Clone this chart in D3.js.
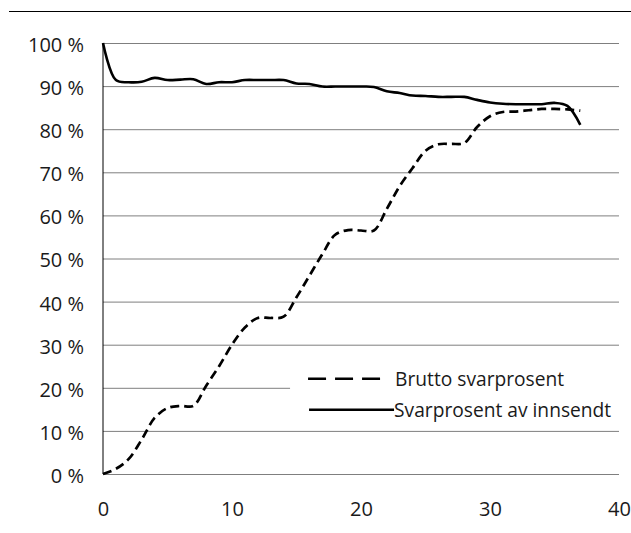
<!DOCTYPE html>
<html>
<head>
<meta charset="utf-8">
<script src="https://cdn.jsdelivr.net/npm/d3@7"></script>
<style>
    body { margin: 0; background: #fff; }
    text { font-family: "Open Sans", sans-serif; fill: #1a1a1a; }
</style>
</head>
<body>
<div id="chart"></div>
<script>
// data
const days = [0, 1, 2, 3, 4, 5, 6, 7, 8, 9, 10, 11, 12, 13, 14, 15, 16, 17, 18, 19,
    20, 21, 22, 23, 24, 25, 26, 27, 28, 29, 30, 31, 32, 33, 34, 35, 36, 37]
const brutto = [0, 1.2, 3.5, 8, 13, 15.3, 15.8, 15.8, 20.5, 25, 30, 34, 36.2, 36.2, 36.5, 41, 46, 51, 55.5, 56.6,
    56.5, 56.5, 61.5, 66.8, 71, 75, 76.5, 76.6, 76.8, 80.5, 83, 84, 84.1, 84.4, 84.7, 84.7, 84.6, 84.3]
const innsendt = [100, 91.4, 90.9, 91, 91.9, 91.4, 91.5, 91.6, 90.5, 90.9, 90.9, 91.4, 91.4, 91.4, 91.4, 90.6, 90.5, 89.9, 89.9, 89.9,
    89.9, 89.8, 88.8, 88.4, 87.8, 87.7, 87.5, 87.5, 87.5, 86.8, 86.2, 85.9, 85.8, 85.8, 85.8, 86.1, 85.4, 81]
const xTicks = [0, 10, 20, 30, 40]
const yTicks = [0, 10, 20, 30, 40, 50, 60, 70, 80, 90, 100]
const seriesNames = ["Brutto svarprosent", "Svarprosent av innsendt"]

function draw() {
    let dimensions = {
        width: 631,
        height: 533,
        left: 103,
        right: 12,
        top: 43,
        bottom: 59,
    };
    dimensions.ctrWidth = dimensions.width - dimensions.left - dimensions.right
    dimensions.ctrHeight = dimensions.height - dimensions.top - dimensions.bottom

    const svg = d3.select('#chart')
        .append("svg")
        .attr("width", dimensions.width)
        .attr("height", dimensions.height)

    // rule across the top
    svg.append("line")
        .attr("x1", 9).attr("x2", dimensions.width)
        .attr("y1", 11.5).attr("y2", 11.5)
        .attr("stroke", "#000")
        .attr("stroke-width", 1)

    const ctr = svg.append("g")
        .attr("transform", `translate(${dimensions.left}, ${dimensions.top})`)

    // scales
    var x = d3.scaleLinear()
        .domain([0, 40])
        .range([0, dimensions.ctrWidth])
    var y = d3.scaleLinear()
        .domain([0, 100])
        .range([dimensions.ctrHeight, 0])

    // Y axis with gridlines
    const yAxis = ctr.append("g")
        .call(d3.axisLeft(y).tickValues(yTicks).tickSize(-dimensions.ctrWidth)
            .tickPadding(19).tickFormat(d => d + " %"))
    yAxis.select(".domain").remove()
    yAxis.selectAll(".tick line")
        .attr("stroke", "#7f7f7f")
        .attr("stroke-width", 1)
    yAxis.selectAll("text")
        .attr("font-size", 20)
        .attr("font-family", null)
        .attr("dy", "0.42em")

    // X axis, labels only
    const xAxis = ctr.append("g")
        .attr("transform", "translate(0," + dimensions.ctrHeight + ")")
        .call(d3.axisBottom(x).tickValues(xTicks).tickSize(0).tickPadding(28))
    xAxis.select(".domain").remove()
    xAxis.selectAll("text")
        .attr("font-size", 20)
        .attr("font-family", null)

    // left axis line
    ctr.append("line")
        .attr("x1", 0).attr("x2", 0)
        .attr("y1", y(100)).attr("y2", y(0))
        .attr("stroke", "#000")
        .attr("stroke-width", 1)

    // line generators
    const line = (vals) => d3.line()
        .x((d, i) => x(days[i]))
        .y(d => y(d))
        .curve(d3.curveCatmullRom)(vals)

    ctr.append("path")
        .attr("d", line(brutto))
        .attr("fill", "none")
        .attr("stroke", "#000")
        .attr("stroke-width", 2.7)
        .attr("stroke-dasharray", "9,5")

    ctr.append("path")
        .attr("d", line(innsendt))
        .attr("fill", "none")
        .attr("stroke", "#000")
        .attr("stroke-width", 2.6)

    // legend, white box over the grid
    const legend = ctr.append("g")
        .attr("transform", `translate(${x(14.5)}, ${y(26.5)})`)
    legend.append("rect")
        .attr("x", 0).attr("y", 0)
        .attr("width", x(40) - x(14.5) + 1)
        .attr("height", 62)
        .attr("fill", "#fff")

    const rows = [
        { name: seriesNames[0], dash: "18,9", x1: 18, x2: 91, tx: 105 },
        { name: seriesNames[1], dash: null, x1: 19, x2: 104, tx: 104 },
    ]
    rows.forEach((r, i) => {
        const cy = 19 + i * 31
        legend.append("line")
            .attr("x1", r.x1).attr("x2", r.x2)
            .attr("y1", cy).attr("y2", cy)
            .attr("stroke", "#000")
            .attr("stroke-width", 2.4)
            .attr("stroke-dasharray", r.dash)
        legend.append("text")
            .attr("x", r.tx)
            .attr("y", cy)
            .attr("dy", "0.36em")
            .attr("font-size", 19.2)
            .text(r.name)
    })
}
draw()
</script>
</body>
</html>
